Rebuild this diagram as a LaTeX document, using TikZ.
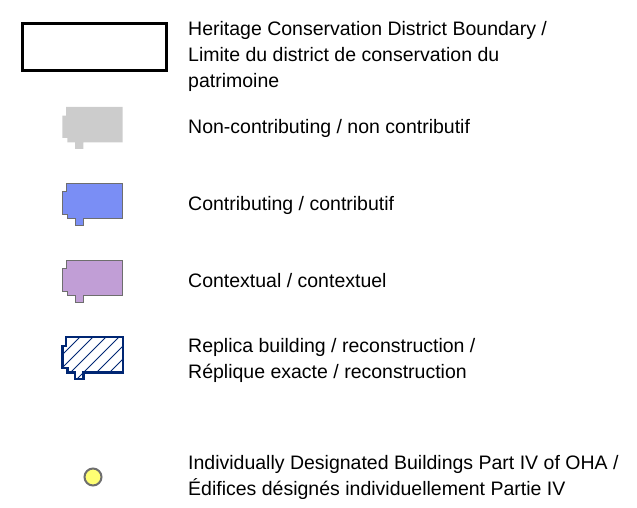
\documentclass[tikz,border=0pt]{standalone}
\usepackage{fontspec}
\setmainfont{Liberation Sans}
\definecolor{greyfill}{RGB}{204,204,204}
\definecolor{bluefill}{RGB}{122,142,245}
\definecolor{purplefill}{RGB}{193,158,214}
\definecolor{navy}{RGB}{0,38,115}
\definecolor{edgegrey}{RGB}{110,110,110}
\definecolor{yellowfill}{RGB}{255,255,115}
\begin{document}
\begin{tikzpicture}[x=1pt,y=-1pt,
  legtext/.style={anchor=base west,inner sep=0pt,align=left,font=\fontsize{19.5}{26}\selectfont},
  bldg/.style={line join=miter}]
\useasboundingbox (0,0) rectangle (637,508);
\def\bshape#1{(66,#1) -- ++(56.7,0) -- ++(0,35.4) -- ++(-39.4,0) -- ++(0,6.6) -- ++(-8.3,0) -- ++(0,-6.6) -- ++(-7.7,0) -- ++(0,-4.4) -- ++(-5,0) -- ++(0,-22.3) -- ++(3.7,0) -- cycle}
% boundary
\draw[line width=3.3pt] (22.3,23.7) rectangle (166.3,70.3);
\node[legtext] (t1) at (188,87.7) {Heritage Conservation District Boundary /\\Limite du district de conservation du\\patrimoine};
% non-contributing
\fill[greyfill] \bshape{107};
\node[legtext] (t2) at (188,134) {Non-contributing / non contributif};
% contributing
\draw[bldg,fill=bluefill,draw=edgegrey,line width=1pt] \bshape{183};
\node[legtext] (t3) at (188,210) {Contributing / contributif};
% contextual
\draw[bldg,fill=purplefill,draw=edgegrey,line width=1pt] \bshape{260};
\node[legtext] (t4) at (188,287) {Contextual / contextuel};
% replica
\begin{scope}
\clip \bshape{337};
\foreach \i in {-60,-47,...,80} {\draw[navy,line width=0.8pt] (66+\i,385) -- ++(50,-50);}
\end{scope}
\draw[bldg,draw=navy,line width=2.4pt] \bshape{337};
\node[legtext] (t5) at (188,378) {Replica building / reconstruction /\\Réplique exacte / reconstruction};
% individually designated
\node[circle,draw=edgegrey,fill=yellowfill,line width=2pt,minimum size=17pt,inner sep=0pt] (c) at (93,477) {};
\node[legtext] (t6) at (188,495) {Individually Designated Buildings Part IV of OHA /\\Édifices désignés individuellement Partie IV};
\end{tikzpicture}
\end{document}
